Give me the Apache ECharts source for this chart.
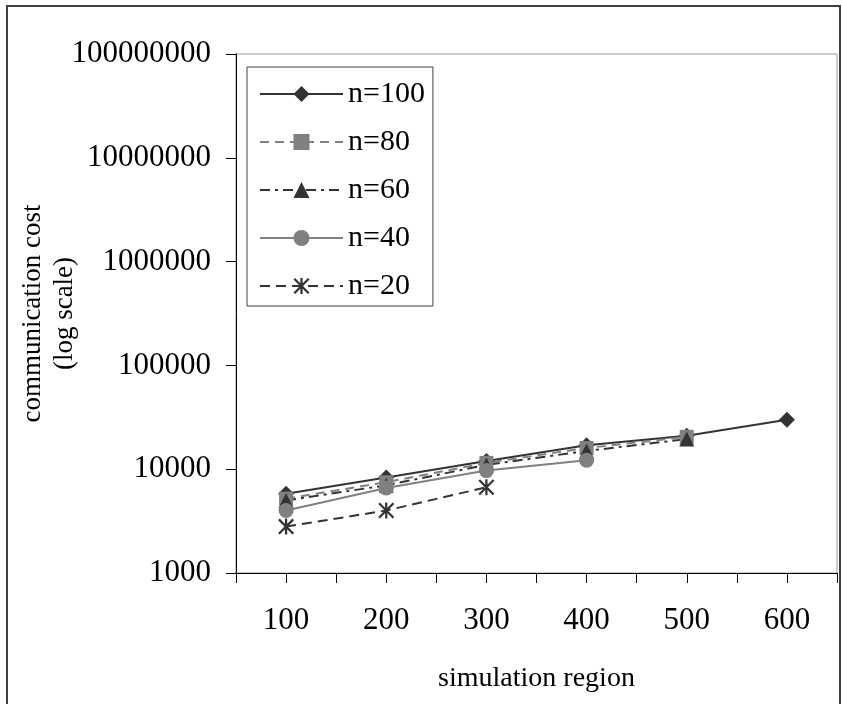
<!DOCTYPE html>
<html>
<head>
<meta charset="utf-8">
<script src="https://cdn.jsdelivr.net/npm/echarts@6/dist/echarts.min.js"></script>
<style>
  html, body { margin: 0; padding: 0; background: #fff; }
  #chart { width: 842px; height: 704px; }
</style>
</head>
<body>
<div id="chart"></div>
<script>
  // simulation region values (x)
  var regions = [100, 200, 300, 400, 500, 600];
  // communication cost per node count
  var n100 = [5800, 8300, 12000, 17000, 21000, 30000];
  var n80 = [5200, 7500, 11500, 16000, 20500];
  var n60 = [5000, 7000, 11000, 15000, 19500];
  var n40 = [4000, 6600, 9700, 12200];
  var n20 = [2800, 4000, 6700];
  var yTicks = [1000, 10000, 100000, 1000000, 10000000, 100000000];

  var font = "'Liberation Serif', 'Times New Roman', serif";
  var dark = '#333333';
  var gray = '#808080';
  var asterisk = 'path://M4.3,0L5.7,0L5.7,10L4.3,10Z M0,1L1,0L10,9L9,10Z M9,0L10,1L1,10L0,9Z';

  function pairs(vals) {
    return vals.map(function (v, i) { return [regions[i], v]; });
  }

  function line(name, vals, color, dash, symbol, size) {
    return {
      name: name,
      type: 'line',
      data: pairs(vals),
      symbol: symbol,
      symbolSize: size,
      showAllSymbol: true,
      lineStyle: { color: color, width: 2, type: dash },
      itemStyle: { color: color },
      emphasis: { disabled: true },
      animation: false
    };
  }

  var chart = echarts.init(document.getElementById('chart'));
  var option = {
    backgroundColor: '#fff',
    textStyle: { fontFamily: font, color: '#000' },
    graphic: [{
      type: 'rect',
      shape: { x: 7, y: 6, width: 833, height: 760 },
      style: { fill: 'none', stroke: '#404040', lineWidth: 2 },
      silent: true
    }],
    grid: {
      left: 236, right: 5, top: 54, bottom: 131,
      containLabel: false,
      outerBoundsMode: 'none',
      show: true, borderColor: '#999', borderWidth: 1
    },
    legend: {
      orient: 'vertical',
      left: 247, top: 67,
      padding: [12, 8, 5, 12],
      itemWidth: 83, itemHeight: 20, itemGap: 18,
      borderColor: '#404040', borderWidth: 1,
      backgroundColor: '#fff',
      textStyle: { fontFamily: font, fontSize: 30, color: '#000' },
      data: ['n=100', 'n=80', 'n=60', 'n=40', 'n=20']
    },
    xAxis: {
      type: 'value',
      min: 50, max: 650, interval: 50,
      name: 'simulation region',
      nameLocation: 'middle',
      nameGap: 92,
      nameMoveOverlap: false,
      nameTextStyle: { fontFamily: font, fontSize: 28, color: '#000' },
      axisLine: { lineStyle: { color: '#000', width: 1 } },
      axisTick: { show: true, length: 10, inside: false, lineStyle: { color: '#000' } },
      axisLabel: {
        margin: 32, fontSize: 31, fontFamily: font, color: '#000',
        showMinLabel: true, showMaxLabel: true,
        formatter: function (v) {
          return (v % 100 === 0 && regions.indexOf(v) >= 0) ? String(v) : '';
        }
      },
      splitLine: { show: false }
    },
    yAxis: {
      type: 'log',
      logBase: 10,
      min: yTicks[0], max: yTicks[yTicks.length - 1],
      name: 'communication cost\n(log scale)',
      nameLocation: 'middle',
      nameGap: 155,
      nameMoveOverlap: false,
      nameTextStyle: { fontFamily: font, fontSize: 27, lineHeight: 32, color: '#000' },
      axisLine: { show: true, lineStyle: { color: '#000', width: 1 } },
      axisTick: { show: true, length: 10, inside: false, lineStyle: { color: '#000' } },
      axisLabel: {
        margin: 25, fontSize: 31, fontFamily: font, color: '#000',
        formatter: function (v) { return String(Math.round(v)); }
      },
      splitLine: { show: false },
      minorTick: { show: false }
    },
    series: [
      line('n=100', n100, dark, 'solid', 'diamond', 16),
      line('n=80', n80, gray, [9, 6], 'rect', 14),
      line('n=60', n60, dark, [10, 5, 3, 5], 'triangle', 15),
      line('n=40', n40, gray, 'solid', 'circle', 15),
      line('n=20', n20, dark, [10, 6], asterisk, 16)
    ]
  };
  chart.setOption(option);
  window.addEventListener('resize', function () {
    chart.resize();
  });
</script>
</body>
</html>
